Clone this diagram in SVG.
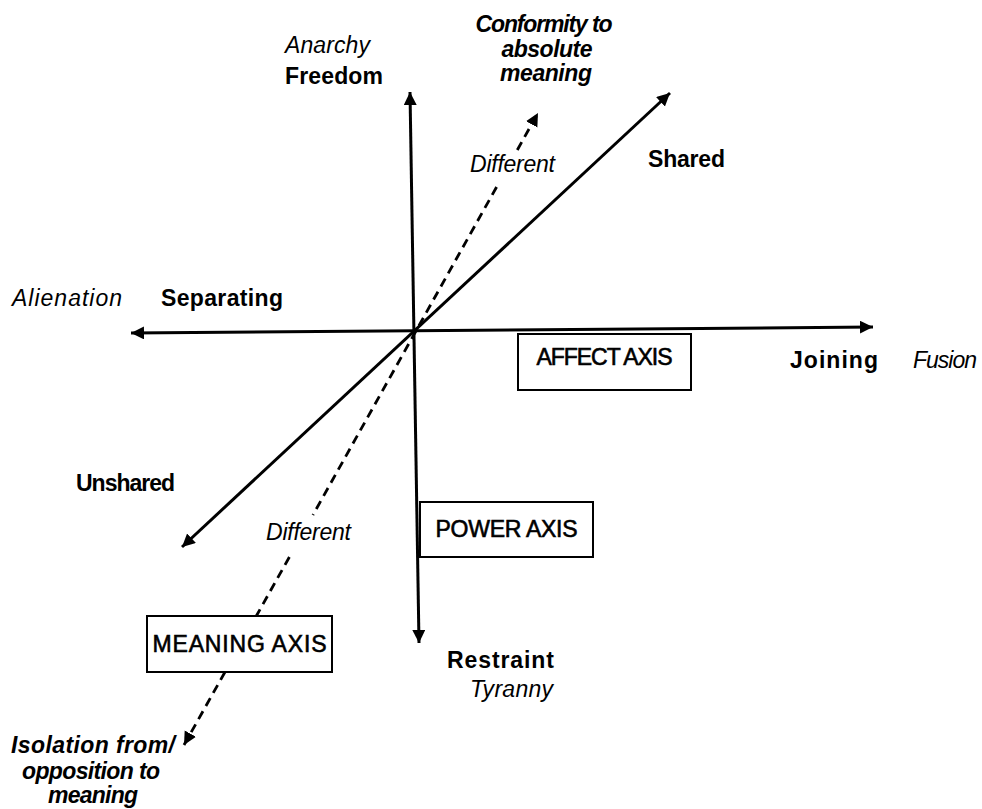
<svg xmlns="http://www.w3.org/2000/svg" width="982" height="809" viewBox="0 0 982 809">
<style>
  text { font-family: "Liberation Sans", Arial, sans-serif; font-size: 23px; fill: #000; }
  .b { font-weight: bold; }
  .i { font-style: italic; }
  .bi { font-weight: bold; font-style: italic; }
  .box { font-weight: normal; stroke: #000; stroke-width: 0.6; }
  .axis { stroke: #000; stroke-width: 3; fill: none; }
  .dash { stroke: #000; stroke-width: 2.8; fill: none; stroke-dasharray: 9 6; }
  rect.frame { fill: #fff; stroke: #000; stroke-width: 2; }
</style>
<defs>
  <marker id="ah" markerUnits="userSpaceOnUse" markerWidth="14" markerHeight="14" refX="13" refY="6.5" orient="auto-start-reverse">
    <path d="M0,0 L13,6.5 L0,13 z" fill="#000"/>
  </marker>
</defs>
<rect width="982" height="809" fill="#fff"/>

<g id="connectors">
  <path id="affect-axis" class="axis" d="M131,333 L873,327" marker-start="url(#ah)" marker-end="url(#ah)"/>
  <path id="power-axis" class="axis" d="M410,92 L419,643" marker-start="url(#ah)" marker-end="url(#ah)"/>
  <path id="shared-axis" class="axis" d="M182,547 L670,93" marker-start="url(#ah)" marker-end="url(#ah)"/>
  <path class="dash" d="M517.3,150 L538,113" marker-end="url(#ah)"/>
  <path class="dash" d="M496.6,187 L312.9,515"/>
  <path class="dash" d="M289.4,557 L256.3,616"/>
  <path class="dash" d="M225,672 L184,745" marker-end="url(#ah)"/>
</g>

<g id="node-affect-box">
  <rect class="frame" x="518" y="334" width="173" height="56"/>
  <text class="box" x="604.5" y="365" text-anchor="middle" font-size="21.5" textLength="136">AFFECT AXIS</text>
</g>
<g id="node-power-box">
  <rect class="frame" x="420" y="502" width="173" height="55"/>
  <text class="box" x="506.5" y="537" text-anchor="middle" font-size="22.5" textLength="142">POWER AXIS</text>
</g>
<g id="node-meaning-box">
  <rect class="frame" x="147" y="616" width="185" height="56"/>
  <text class="box" x="239.5" y="652" text-anchor="middle" font-size="23.5" textLength="174">MEANING AXIS</text>
</g>

<g id="node-anarchy"><text class="i" x="285" y="53" textLength="85">Anarchy</text></g>
<g id="node-freedom"><text class="b" x="285" y="84" textLength="98">Freedom</text></g>
<g id="node-conformity">
  <text class="bi" x="544" y="32" text-anchor="middle" textLength="137">Conformity to</text>
  <text class="bi" x="547" y="57" text-anchor="middle" textLength="91">absolute</text>
  <text class="bi" x="546" y="81" text-anchor="middle" textLength="92">meaning</text>
</g>
<g id="node-different-top"><text class="i" x="470" y="172" textLength="85">Different</text></g>
<g id="node-shared"><text class="b" x="648" y="167" textLength="77">Shared</text></g>
<g id="node-alienation"><text class="i" x="12" y="306" textLength="110">Alienation</text></g>
<g id="node-separating"><text class="b" x="161" y="306" textLength="122">Separating</text></g>
<g id="node-joining"><text class="b" x="790" y="368" textLength="88">Joining</text></g>
<g id="node-fusion"><text class="i" x="913" y="368" textLength="64">Fusion</text></g>
<g id="node-unshared"><text class="b" x="76" y="491" textLength="99">Unshared</text></g>
<g id="node-different-bottom"><text class="i" x="266" y="540" textLength="85">Different</text></g>
<g id="node-restraint"><text class="b" x="447" y="668" textLength="107">Restraint</text></g>
<g id="node-tyranny"><text class="i" x="470" y="697" textLength="83">Tyranny</text></g>
<g id="node-isolation">
  <text class="bi" x="93" y="753" text-anchor="middle" textLength="164">Isolation from/</text>
  <text class="bi" x="91" y="779" text-anchor="middle" textLength="138">opposition to</text>
  <text class="bi" x="93" y="803" text-anchor="middle" textLength="90">meaning</text>
</g>
</svg>
